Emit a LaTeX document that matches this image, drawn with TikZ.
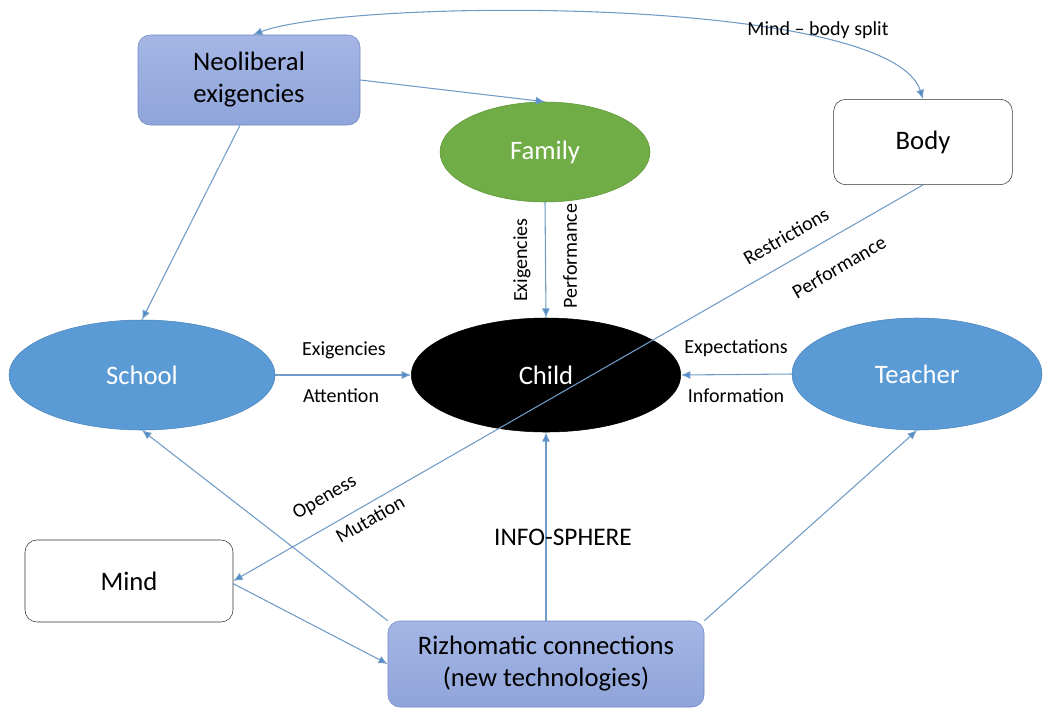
\documentclass[tikz,border=0pt]{standalone}
\usepackage{fontspec}
\setmainfont{Carlito}
\usepackage{tikz}
\usetikzlibrary{shapes.geometric,arrows.meta,positioning,calc}

\definecolor{linkblue}{HTML}{6F9CC7}
\definecolor{tipblue}{HTML}{4F8BC9}
\definecolor{ovalblue}{HTML}{5B9BD5}
\definecolor{ovaledge}{HTML}{4A84BC}
\definecolor{leafgreen}{HTML}{70AD47}
\definecolor{leafedge}{HTML}{5E9639}
\definecolor{boxedge}{HTML}{6F87C6}
\definecolor{boxtop}{HTML}{A5B6E5}
\definecolor{boxbot}{HTML}{8FA4DA}

\begin{document}
\begin{tikzpicture}[x=0.75pt,y=-0.75pt,
    big/.style={font=\fontsize{20}{24}\selectfont},
    small/.style={font=\fontsize{15}{18}\selectfont,inner sep=0.5pt},
    oval/.style={ellipse,draw=ovaledge,fill=ovalblue,text=white,big,inner sep=0pt},
    bluebox/.style={rectangle,rounded corners=9pt,draw=boxedge,top color=boxtop,bottom color=boxbot,big,align=center,inner sep=0pt},
    whitebox/.style={rectangle,rounded corners=9pt,draw=black!80,fill=white,big,inner sep=0pt},
    link/.style={draw=linkblue,line width=0.8pt,-{Latex[length=7pt,width=6pt,fill=tipblue]}}]
    \useasboundingbox (0,0) rectangle (1044,707);

    % nodes
    \node[bluebox,minimum width=166.5pt,minimum height=67.5pt] (neo) at (249,80) {Neoliberal\\exigencies};
    \node[oval,draw=leafedge,fill=leafgreen,minimum width=157.5pt,minimum height=75pt] (family) at (545,152) {Family};
    \node[whitebox,minimum width=134pt,minimum height=64pt] (body) at (923,142) {Body};
    \node[oval,minimum width=199.5pt,minimum height=82.5pt] (school) at (142,375) {School};
    \node[oval,draw=black,fill=black,minimum width=202pt,minimum height=85.5pt] (child) at (546,375) {Child};
    \node[oval,minimum width=187.5pt,minimum height=84pt] (teacher) at (917,374) {Teacher};
    \node[whitebox,minimum width=156pt,minimum height=61.5pt] (mind) at (129,581) {Mind};
    \node[bluebox,minimum width=237pt,minimum height=64.5pt] (rizh) at (546,664) {Rizhomatic connections\\(new technologies)};

    % connectors
    \draw[link,{Latex[length=7pt,width=6pt,fill=tipblue]}-{Latex[length=7pt,width=6pt,fill=tipblue]}]
        ([xshift=3pt]neo.north) .. controls (350,-2) and (890,-5) .. (body.north);
    \draw[link] (neo.east) -- (family.north);
    \draw[link] ([xshift=-6.75pt]neo.south) -- (school.north);
    \draw[link] (family.south) -- (child.north);
    \draw[link] (school.east) -- (child.west);
    \draw[link] (teacher.west) -- (child.east);
    \draw[link] (body.south) -- (mind.east);
    \draw[link] (rizh.north) -- (child.south);
    \draw[link] (rizh.north west) -- (school.south);
    \draw[link] (rizh.north east) -- (teacher.south);
    \draw[link] ([yshift=-2pt]mind.east) -- (rizh.west);

    % labels
    \node[small] (split) at (818,30) {Mind – body split};
    \node[small,rotate=90] (famex) at (522,260) {Exigencies};
    \node[small,rotate=90] (famperf) at (570,256) {Performance};
    \node[small] (schex) at (344,350) {Exigencies};
    \node[small] (schatt) at (341,396) {Attention};
    \node[small] (teaexp) at (736,348) {Expectations};
    \node[small] (teainf) at (736,396) {Information};
    \node[small,rotate=30] (restr) at (786,236) {Restrictions};
    \node[small,rotate=30] (bodyperf) at (839,267) {Performance};
    \node[small,rotate=30] (open) at (325,498) {Openess};
    \node[small,rotate=30] (mut) at (370,519) {Mutation};
    \node[font=\fontsize{19}{22}\selectfont] (info) at (563,537) {INFO-SPHERE};
\end{tikzpicture}
\end{document}
